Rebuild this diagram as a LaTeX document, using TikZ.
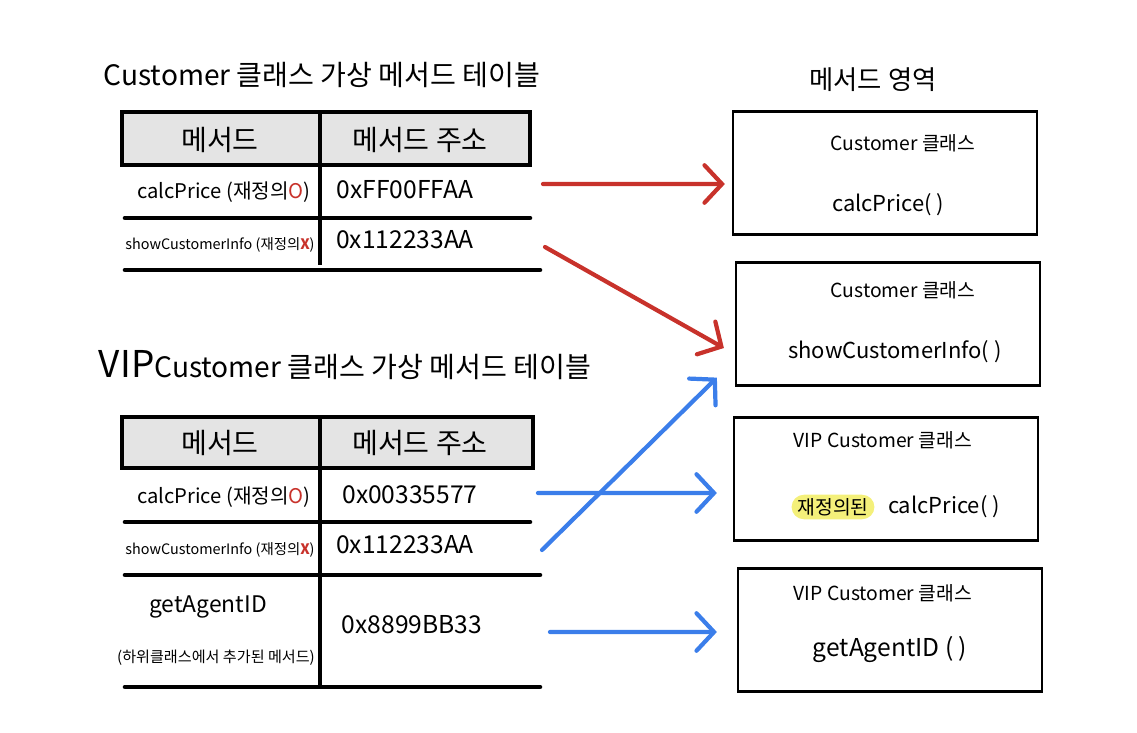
\documentclass[tikz,border=0pt]{standalone}
\usepackage{fontspec}
\setmainfont{Noto Sans CJK KR}
\usepackage{xcolor}
\usepackage{tikz}
\usetikzlibrary{arrows.meta, positioning}
\definecolor{ArrowRed}{HTML}{C8322B}
\definecolor{ArrowBlue}{HTML}{3B7EEA}
\definecolor{HeadGray}{HTML}{E4E4E4}
\definecolor{Marker}{HTML}{F4F07A}

\begin{document}
\begin{tikzpicture}
  [
    x=0.02cm, y=-0.02cm,
    Title/.style={font=\fontsize{16}{18}\selectfont},
    Head/.style={font=\fontsize{16}{18}\selectfont},
    Cell/.style={font=\fontsize{11.5}{13}\selectfont},
    Small/.style={font=\fontsize{8.2}{10}\selectfont},
    Addr/.style={font=\fontsize{14}{16}\selectfont},
    Box/.style={rectangle, draw=black, line width=1.3pt, minimum width=6.08cm, minimum height=2.46cm},
    BoxText/.style={font=\fontsize{11}{13}\selectfont},
    BoxMethod/.style={font=\fontsize{12.5}{14}\selectfont},
    Rule/.style={line width=2.6pt, line cap=round},
    RedArrow/.style={draw=ArrowRed, line width=2.4pt, line cap=round, -{Straight Barb[length=3.5mm, width=7.5mm, line cap=round]}},
    BlueArrow/.style={draw=ArrowBlue, line width=2.4pt, line cap=round, -{Straight Barb[length=3.5mm, width=7.5mm, line cap=round]}}
  ]
  \useasboundingbox (0,0) rectangle (1137,733);

  % Customer table
  \node[Title] (t1) at(322, 75) {Customer 클래스 가상 메서드 테이블};
  \draw[line width=2.8pt, fill=HeadGray] (122,112) rectangle (530,165);
  \draw[line width=2.2pt] (320,112) -- (320,265);
  \draw[Rule] (125,218) -- (530,218);
  \draw[Rule] (125,270) -- (540,270);
  \node[Head] (h1a) at(220, 140) {메서드};
  \node[Head] (h1b) at(420, 140) {메서드 주소};
  \node[Cell] (m1a) at(224, 192) {calcPrice (재정의\textcolor{ArrowRed}{O})};
  \node[Addr] (a1a) at(405, 190) {0xFF00FFAA};
  \node[Small] (m1b) at(220, 245) {showCustomerInfo (재정의\textcolor{ArrowRed}{\textbf{X}})};
  \node[Addr] (a1b) at(405, 240) {0x112233AA};

  % VIPCustomer table
  \node[Title] (t2) at(345, 365) {{\fontsize{21}{23}\selectfont VIP}Customer 클래스 가상 메서드 테이블};
  \draw[line width=2.8pt, fill=HeadGray] (122,417) rectangle (533,468);
  \draw[line width=2.2pt] (320,417) -- (320,685);
  \draw[Rule] (125,522) -- (530,522);
  \draw[Rule] (125,575) -- (540,575);
  \draw[Rule] (125,687) -- (540,687);
  \node[Head] (h2a) at(220, 443) {메서드};
  \node[Head] (h2b) at(420, 443) {메서드 주소};
  \node[Cell] (m2a) at(224, 497) {calcPrice (재정의\textcolor{ArrowRed}{O})};
  \node[Addr] (a2a) at(410, 495) {0x00335577};
  \node[Small] (m2b) at(220, 550) {showCustomerInfo (재정의\textcolor{ArrowRed}{\textbf{X}})};
  \node[Addr] (a2b) at(405, 545) {0x112233AA};
  \node[Cell, font=\fontsize{13}{15}\selectfont] (m2c) at(208, 607) {getAgentID};
  \node[Small, font=\fontsize{8.6}{10}\selectfont] (m2d) at(216, 658) {(하위클래스에서 추가된 메서드)};
  \node[Addr] (a2c) at(412, 625) {0x8899BB33};

  % Method area
  \node[Head, font=\fontsize{15}{17}\selectfont] (area) at(873, 80) {메서드 영역};
  \node[Box] (b1) at(885, 173) {};
  \node[Box] (b2) at(888, 324) {};
  \node[Box] (b3) at(886, 479) {};
  \node[Box] (b4) at(890, 630) {};
  \node[BoxText] (b1t) at(903, 143) {Customer 클래스};
  \node[BoxMethod] (b1m) at(888, 205) {calcPrice( )};
  \node[BoxText] (b2t) at(903, 290) {Customer 클래스};
  \node[BoxMethod] (b2m) at(895, 352) {showCustomerInfo( )};
  \node[BoxText] (b3t) at(883, 440) {VIP Customer 클래스};
  \node[BoxText, fill=Marker, rounded corners=7pt, inner ysep=2pt] (b3h) at(833, 507) {재정의된};
  \node[BoxMethod, right=4pt of b3h] (b3m) {calcPrice( )};
  \node[BoxText] (b4t) at(883, 593) {VIP Customer 클래스};
  \node[BoxMethod, font=\fontsize{14}{16}\selectfont] (b4m) at(890, 650) {getAgentID ( )};

  % Lines
  \coordinate (s1) at(543, 184);
  \coordinate (s2) at(545, 247);
  \coordinate (s3) at(538, 493);
  \coordinate (s4) at(542, 550);
  \coordinate (s5) at(550, 632);
  % calcPrice -> Customer
  \path [RedArrow] (s1) -- ([xshift=-0.14cm, yshift=-0.22cm]b1.west);
  % showCustomerInfo -> Customer
  \path [RedArrow] (s2) -- ([xshift=-0.22cm, yshift=-0.48cm]b2.west);
  % calcPrice -> VIP Customer
  \path [BlueArrow] (s3) -- ([xshift=-0.32cm, yshift=-0.28cm]b3.west);
  % showCustomerInfo -> Customer (inherited)
  \path [BlueArrow] (s4) -- ([xshift=-0.36cm, yshift=0.18cm]b2.south west);
  % getAgentID -> VIP Customer
  \path [BlueArrow] (s5) -- ([xshift=-0.4cm, yshift=-0.04cm]b4.west);

\end{tikzpicture}
\end{document}
